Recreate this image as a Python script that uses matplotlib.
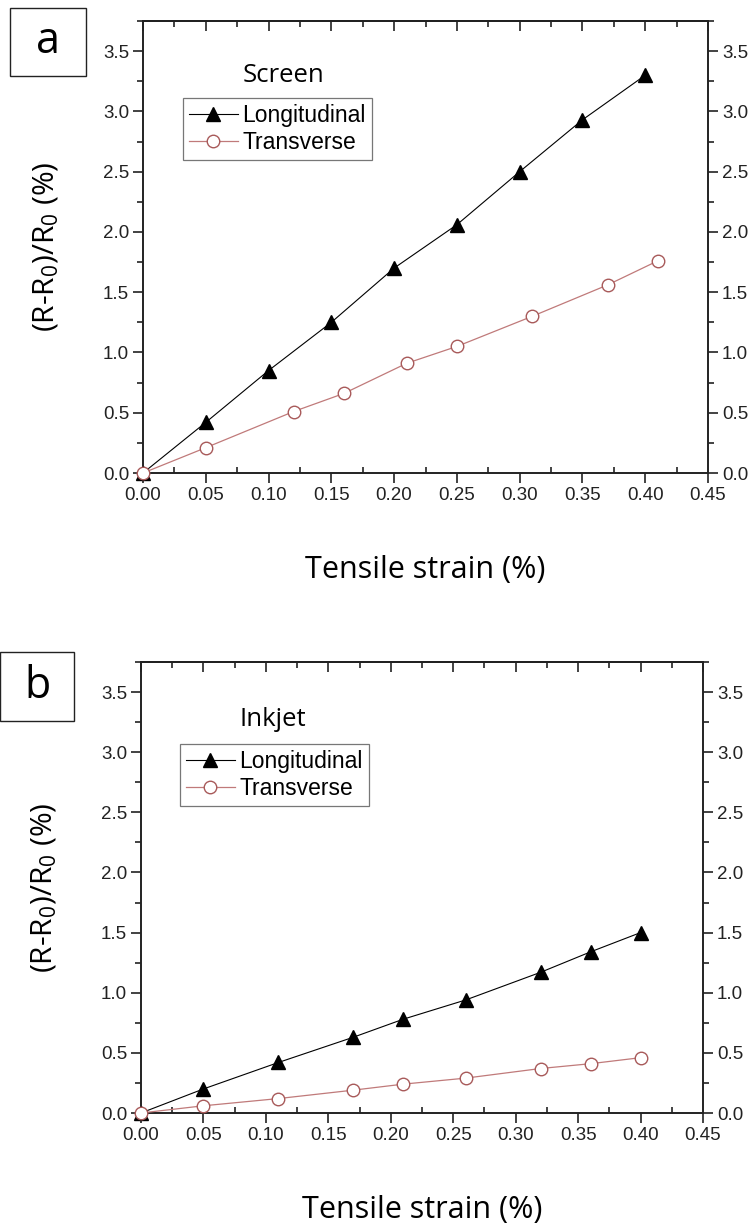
import matplotlib
matplotlib.use("Agg")
import matplotlib.pyplot as plt
from matplotlib.ticker import MultipleLocator, FormatStrFormatter
from matplotlib.patches import Rectangle

# Screen-printed strain gauge
screen_long_x = [0.00, 0.05, 0.10, 0.15, 0.20, 0.25, 0.30, 0.35, 0.40]
screen_long_y = [0.00, 0.42, 0.85, 1.25, 1.70, 2.06, 2.50, 2.93, 3.30]
screen_trans_x = [0.00, 0.05, 0.12, 0.16, 0.21, 0.25, 0.31, 0.37, 0.41]
screen_trans_y = [0.00, 0.21, 0.51, 0.66, 0.91, 1.05, 1.30, 1.56, 1.76]

# Inkjet-printed strain gauge
inkjet_long_x = [0.00, 0.05, 0.11, 0.17, 0.21, 0.26, 0.32, 0.36, 0.40]
inkjet_long_y = [0.00, 0.20, 0.42, 0.63, 0.78, 0.94, 1.17, 1.34, 1.50]
inkjet_trans_x = [0.00, 0.05, 0.11, 0.17, 0.21, 0.26, 0.32, 0.36, 0.40]
inkjet_trans_y = [0.00, 0.06, 0.12, 0.19, 0.24, 0.29, 0.37, 0.41, 0.46]

panel_letters = ["a", "b"]
panel_titles = ["Screen", "Inkjet"]
series_names = ["Longitudinal", "Transverse"]
x_label = "Tensile strain (%)"
y_label = "(R-R$_0$)/R$_0$ (%)"

plt.rcParams["mathtext.default"] = "regular"
label_font = ["Open Sans", "DejaVu Sans"]
tick_font = ["Liberation Sans", "DejaVu Sans"]

W, H = 752, 1228
fig = plt.figure(figsize=(W / 100, H / 100), dpi=100)
fig.patch.set_facecolor("white")

# axes boxes in pixels: left, top, right, bottom
boxes = [(143, 21, 708, 473), (141, 662, 703, 1113)]
letter_boxes = [(10, 8, 86, 76), (0, 652, 74, 721)]
legend_tl = [(183, 98), (180, 744)]
title_xy = [(243, 75), (240, 720)]

data = [
    (screen_long_x, screen_long_y, screen_trans_x, screen_trans_y),
    (inkjet_long_x, inkjet_long_y, inkjet_trans_x, inkjet_trans_y),
]

trans_color = "#c07a7a"
axis_color = "#222222"

for i in range(2):
    l, t, r, b = boxes[i]
    ax = fig.add_axes([l / W, 1 - b / H, (r - l) / W, (b - t) / H])
    lx, ly, tx, ty = data[i]
    ax.plot(lx, ly, color="black", lw=0.8, marker="^", ms=9.5, mfc="black",
            mec="black", label=series_names[0], clip_on=False, zorder=3)
    ax.plot(tx, ty, color=trans_color, lw=0.9, marker="o", ms=9, mfc="white",
            mec="#a85a5a", mew=1.0, label=series_names[1], clip_on=False, zorder=3)
    ax.set_xlim(0, 0.45)
    ax.set_ylim(0, 3.75)
    ax.xaxis.set_major_locator(MultipleLocator(0.05))
    ax.xaxis.set_minor_locator(MultipleLocator(0.025))
    ax.yaxis.set_major_locator(MultipleLocator(0.5))
    ax.yaxis.set_minor_locator(MultipleLocator(0.25))
    ax.xaxis.set_major_formatter(FormatStrFormatter("%.2f"))
    ax.yaxis.set_major_formatter(FormatStrFormatter("%.1f"))
    ax.tick_params(which="both", direction="out", top=False, right=True,
                   labelright=True, width=1.2, colors=axis_color)
    ax.tick_params(which="major", length=7, labelsize=13.5, pad=3)
    ax.tick_params(which="minor", length=4)
    ax.tick_params(axis="x", which="minor", direction="in")
    for lab in ax.get_xticklabels() + ax.get_yticklabels():
        lab.set_family(tick_font)
    # inward ticks on the top edge
    sec = ax.secondary_xaxis("top")
    sec.xaxis.set_major_locator(MultipleLocator(0.05))
    sec.xaxis.set_minor_locator(MultipleLocator(0.025))
    sec.tick_params(which="both", direction="in", labeltop=False, width=1.2,
                    colors=axis_color)
    sec.tick_params(which="major", length=7)
    sec.tick_params(which="minor", length=4)
    sec.spines["top"].set_linewidth(1.4)
    for s in ax.spines.values():
        s.set_linewidth(1.4)
        s.set_color(axis_color)

    ax.set_xlabel(x_label, family=label_font, fontsize=22, labelpad=37)
    ax.set_ylabel(y_label, family=label_font, fontsize=21.5, labelpad=30)

    # series title and legend
    fig.text(title_xy[i][0] / W, 1 - title_xy[i][1] / H, panel_titles[i],
             family=label_font, fontsize=18.5, va="center", ha="left")
    lgx, lgy = legend_tl[i]
    leg = ax.legend(loc="upper left", bbox_to_anchor=(lgx / W, 1 - lgy / H),
                    bbox_transform=fig.transFigure, frameon=True, fancybox=False,
                    edgecolor="#555555", borderpad=0.28, labelspacing=0.15,
                    handlelength=2.1, handletextpad=0.2, borderaxespad=0,
                    prop={"family": tick_font, "size": 16.5})
    leg.get_frame().set_linewidth(0.9)

    # panel letter in a box
    bl, bt, br, bb = letter_boxes[i]
    fig.patches.append(Rectangle((bl / W, 1 - bb / H), (br - bl) / W, (bb - bt) / H,
                                 transform=fig.transFigure, fill=False,
                                 edgecolor=axis_color, lw=1.0))
    fig.text((bl + br) / 2 / W, 1 - (bt + bb) / 2 / H, panel_letters[i],
             family=label_font, fontsize=31, ha="center", va="center")

fig.savefig("out.png", dpi=100)
